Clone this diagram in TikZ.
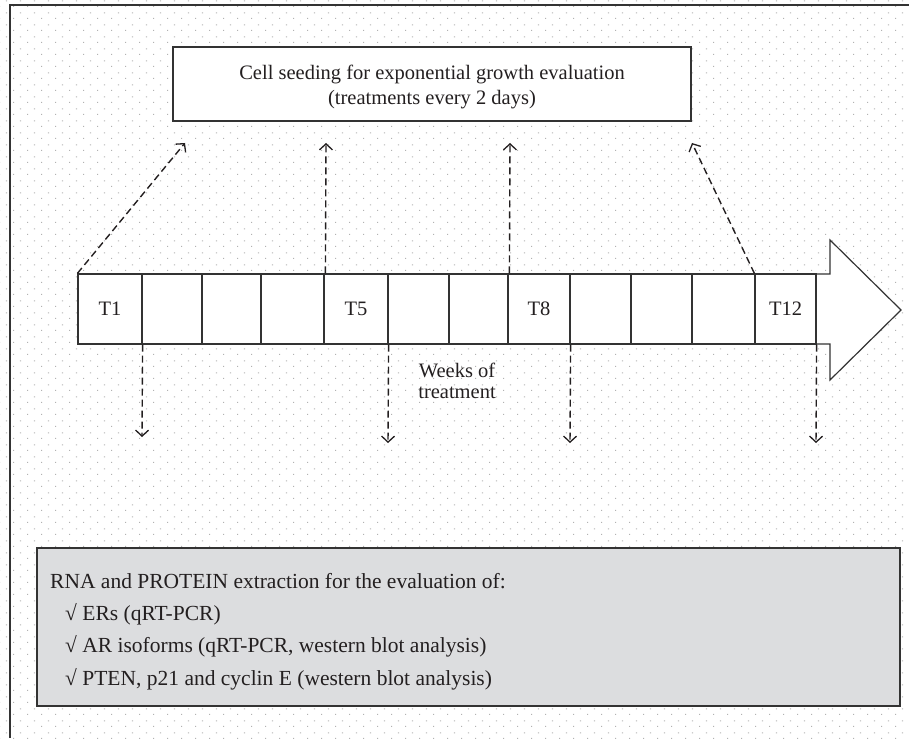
\documentclass[tikz,border=0pt]{standalone}
\usepackage{fontspec}
\setmainfont{Liberation Serif}
\usetikzlibrary{arrows.meta,patterns.meta}
\tikzdeclarepattern{name=bgdots, type=uncolored,
  bounding box={(0pt,0pt) and (14.4pt,12pt)}, tile size={(14.4pt,12pt)},
  code={\fill (0pt,0pt) rectangle (1.2pt,1.2pt); \fill (7.2pt,6pt) rectangle (8.4pt,7.2pt);}}
\definecolor{ink}{HTML}{231F20}
\definecolor{lineg}{HTML}{333333}
\definecolor{boxgray}{HTML}{DCDDDF}
\tikzset{
  txt/.style={font=\fontsize{20.5}{25}\selectfont, text=ink, inner sep=0pt},
  boxtxt/.style={font=\fontsize{21.5}{25}\selectfont, text=ink, inner sep=0pt, anchor=base west},
  cellbox/.style={draw=lineg, line width=1.2, fill=white, minimum height=70, inner sep=0pt},
  dasharrow/.style={draw=ink, line width=1.4, dash pattern=on 7pt off 4pt, -{Straight Barb[length=6pt,width=13pt,line width=1.3pt]}},
}
\begin{document}
\begin{tikzpicture}[x=1pt,y=-1pt]
\useasboundingbox (0,0) rectangle (909,738);
\fill[pattern=bgdots, pattern color=black!30] (0,0) rectangle (909,738);
\draw[line width=2, lineg] (909,5) -- (10,5) -- (10,738);
% top box
\node[draw=lineg, line width=1.3, fill=white, minimum width=518, minimum height=74, inner sep=0pt] (seed) at (432,84) {};
\node[txt, align=center] (seedtxt) at (432,87) {Cell seeding for exponential growth evaluation\\(treatments every 2 days)};
% arrow shaft
\draw[lineg, line width=1.2, fill=white] (78,274) -- (830,274) -- (830,240) -- (901,310) -- (830,380) -- (830,344) -- (78,344) -- cycle;
% cells
\foreach \i/\a/\b in {1/78/142, 2/142/202, 3/202/261, 4/261/324, 5/324/388, 6/388/449, 7/449/508, 8/508/570, 9/570/631, 10/631/692, 11/692/755, 12/755/816} {
  \node[cellbox, minimum width={\b-\a}] (c\i) at ({(\a+\b)/2},309) {};
}
\node[txt] (t1) at (c1) {T1};
\node[txt] (t5) at (c5) {T5};
\node[txt] (t8) at (c8) {T8};
\node[txt] (t12) at (c12) {T12};
% up arrows
\coordinate (u1) at (185,143);
\coordinate (u2) at (326,143);
\coordinate (u3) at (510,143);
\coordinate (u4) at (692,143);
\draw[dasharrow] (c1.north west) -- (u1);
\draw[dasharrow] ([xshift=2]c5.north west) -- (u2);
\draw[dasharrow] ([xshift=2]c8.north west) -- (u3);
\draw[dasharrow] (c12.north west) -- (u4);
% down arrows
\coordinate (d1) at (142,437);
\coordinate (d2) at (388,443);
\coordinate (d3) at (570,443);
\coordinate (d4) at (816,443);
\draw[dasharrow] (c1.south east) -- (d1);
\draw[dasharrow] (c5.south east) -- (d2);
\draw[dasharrow] (c8.south east) -- (d3);
\draw[dasharrow] (c12.south east) -- (d4);
\node[txt, align=center, font=\fontsize{20.5}{21}\selectfont] (weeks) at (457,381) {Weeks of\\treatment};
% bottom box
\node[draw=lineg, line width=1.6, fill=boxgray, minimum width=863, minimum height=158, inner sep=0pt] (rna) at (468.5,627) {};
\node[boxtxt] (r0) at (50,588) {RNA and PROTEIN extraction for the evaluation of:};
\node[boxtxt] (r1) at (65,620) {√ ERs (qRT-PCR)};
\node[boxtxt] (r2) at (65,652) {√ AR isoforms (qRT-PCR, western blot analysis)};
\node[boxtxt] (r3) at (65,685) {√ PTEN, p21 and cyclin E (western blot analysis)};
\end{tikzpicture}
\end{document}
